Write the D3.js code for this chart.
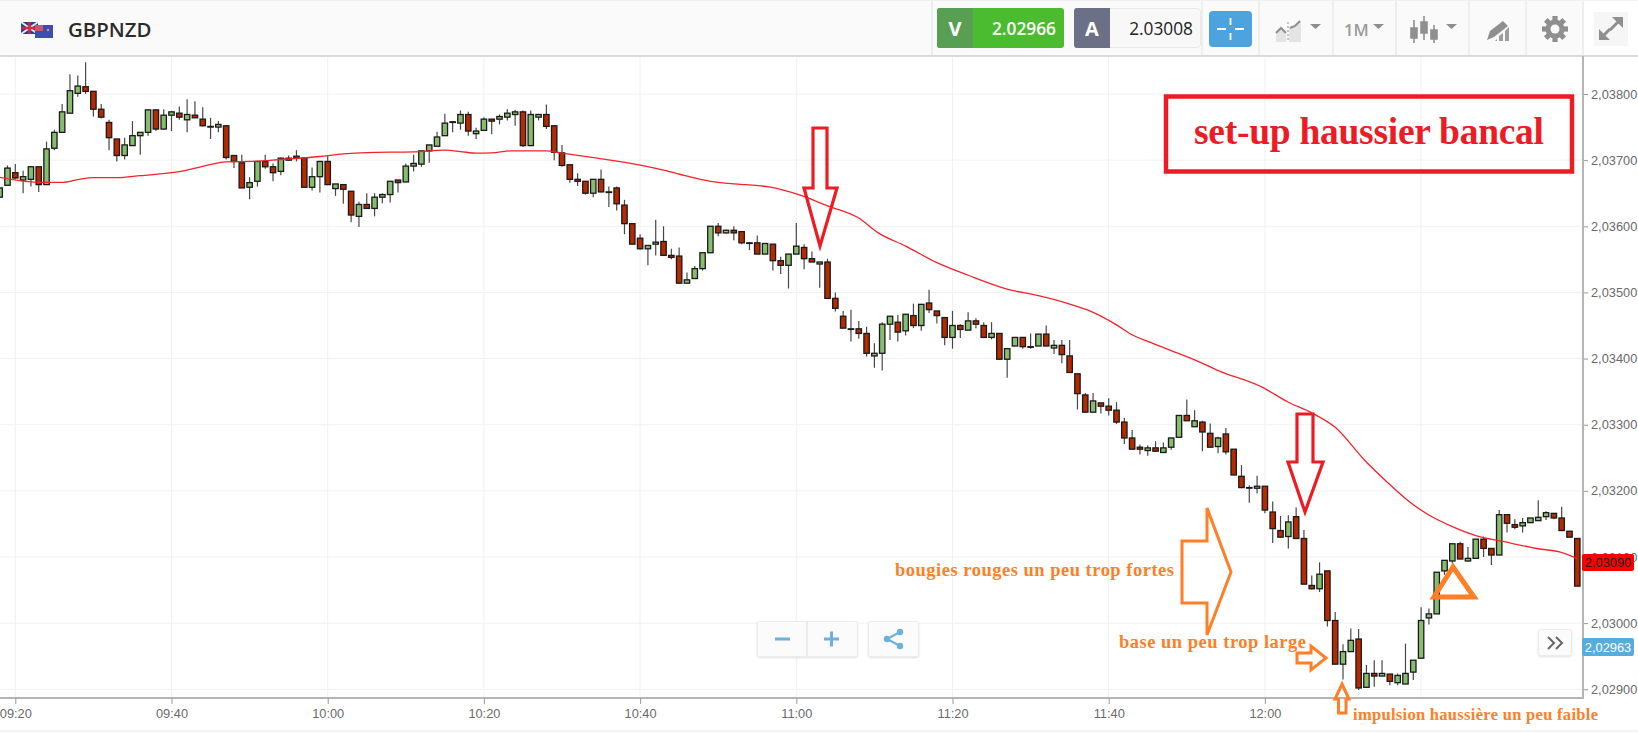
<!DOCTYPE html>
<html><head><meta charset="utf-8">
<script src="https://cdn.jsdelivr.net/npm/d3@7/dist/d3.min.js"></script>
<style>html,body{margin:0;padding:0;background:#fff;overflow:hidden}svg{display:block}
text{font-family:"Liberation Sans",Arial,sans-serif}</style></head><body>
<svg id="c" width="1638" height="733"></svg>
<script>
// Prices are in 1e-5 units above 2.00000 (3800 = 2,03800). One candle per minute, first at 09:18.
const opens=[3644,3662,3681,3670,3671,3690,3663,3718,3742,3771,
3801,3811,3804,3777,3757,3732,3707,3722,3737,3742,
3776,3747,3768,3771,3761,3768,3762,3751,3750,3752,
3707,3696,3659,3668,3698,3690,3683,3703,3706,3703,
3659,3675,3698,3657,3663,3653,3615,3633,3627,3644,
3648,3670,3667,3691,3694,3714,3721,3737,3757,3756,
3769,3740,3745,3762,3762,3765,3769,3773,3722,3765,
3769,3752,3711,3693,3671,3668,3650,3671,3652,3658,
3632,3604,3582,3566,3573,3577,3556,3555,3514,3521,
3536,3560,3600,3590,3594,3592,3575,3575,3558,3573,
3548,3541,3558,3568,3551,3543,3546,3491,3464,3445,
3445,3438,3404,3408,3452,3455,3442,3465,3450,3484,
3472,3462,3432,3450,3443,3457,3450,3432,3438,3399,
3419,3432,3418,3419,3437,3416,3420,3404,3377,3345,
3319,3333,3328,3322,3304,3280,3266,3261,3265,3258,
3266,3281,3314,3297,3304,3287,3267,3286,3263,3222,
3205,3204,3207,3168,3140,3131,3161,3128,3057,3052,
3079,3004,2938,2957,2976,2903,2924,2920,2923,2910,
2908,2926,2947,3008,3014,3079,3094,3120,3094,3098,
3127,3113,3103,3164,3149,3147,3152,3155,3161,3166,
3159,3139,3128];
const closes=[3658,3688,3673,3675,3690,3663,3717,3742,3773,3805,
3812,3804,3777,3765,3734,3707,3723,3737,3742,3776,
3747,3768,3773,3765,3769,3764,3752,3750,3754,3704,
3698,3658,3666,3698,3690,3681,3703,3700,3703,3659,
3675,3698,3663,3664,3656,3617,3633,3627,3644,3648,
3668,3666,3691,3695,3714,3723,3735,3756,3758,3769,
3744,3744,3762,3759,3766,3771,3773,3722,3769,3769,
3751,3712,3692,3671,3668,3650,3671,3652,3652,3634,
3604,3573,3566,3571,3576,3556,3553,3514,3519,3536,
3560,3600,3590,3594,3590,3575,3575,3558,3574,3548,
3541,3558,3570,3551,3546,3546,3491,3476,3446,3445,
3438,3408,3408,3452,3464,3440,3467,3450,3482,3474,
3465,3432,3450,3444,3457,3452,3432,3438,3399,3415,
3432,3418,3418,3437,3419,3420,3406,3379,3347,3319,
3336,3328,3322,3304,3280,3263,3263,3265,3260,3265,
3280,3314,3306,3306,3289,3266,3280,3259,3224,3205,
3205,3207,3171,3143,3130,3153,3128,3059,3052,3074,
3004,2938,2957,2974,2902,2924,2920,2924,2912,2921,
2924,2944,3004,3014,3077,3095,3120,3097,3098,3127,
3113,3103,3164,3151,3145,3152,3159,3160,3167,3159,
3140,3130,3056];
const highs=[3658,3692,3694,3684,3691,3690,3728,3746,3785,3830,
3828,3848,3804,3785,3761,3732,3734,3759,3742,3776,
3776,3777,3774,3781,3792,3789,3780,3764,3759,3752,
3707,3708,3674,3699,3708,3695,3704,3707,3715,3703,
3689,3699,3707,3664,3663,3653,3637,3650,3650,3650,
3668,3670,3695,3708,3714,3723,3743,3770,3759,3775,
3773,3749,3765,3762,3769,3777,3776,3775,3775,3770,
3784,3752,3723,3693,3680,3668,3671,3686,3660,3660,
3640,3604,3588,3571,3610,3600,3566,3568,3530,3540,
3560,3600,3605,3595,3600,3592,3576,3586,3574,3573,
3554,3558,3605,3573,3562,3546,3551,3500,3472,3474,
3457,3448,3423,3455,3464,3466,3467,3483,3482,3504,
3472,3462,3472,3452,3470,3461,3455,3455,3438,3415,
3432,3432,3438,3437,3450,3428,3428,3428,3377,3348,
3348,3333,3340,3334,3310,3292,3270,3269,3275,3273,
3280,3314,3338,3322,3306,3302,3282,3295,3263,3239,
3208,3223,3207,3184,3162,3163,3175,3141,3072,3092,
3079,3017,2968,2992,2991,2937,2944,2944,2923,2924,
2969,2944,3024,3022,3077,3095,3120,3123,3115,3127,
3131,3113,3171,3164,3157,3159,3159,3186,3169,3166,
3176,3139,3128];
const lows=[3644,3662,3671,3650,3660,3652,3663,3715,3742,3771,
3796,3800,3766,3763,3715,3698,3701,3722,3708,3737,
3744,3746,3744,3761,3742,3764,3751,3732,3742,3701,
3688,3658,3641,3660,3687,3668,3677,3699,3698,3659,
3654,3651,3663,3646,3634,3606,3599,3627,3615,3635,
3636,3651,3667,3683,3690,3696,3721,3737,3742,3746,
3737,3732,3745,3739,3754,3760,3752,3720,3721,3760,
3747,3700,3690,3666,3661,3648,3644,3651,3629,3624,
3588,3573,3565,3541,3556,3556,3550,3514,3514,3521,
3533,3560,3585,3589,3579,3573,3564,3558,3558,3533,
3528,3506,3558,3535,3546,3507,3491,3471,3446,3426,
3430,3403,3386,3382,3428,3426,3435,3446,3442,3469,
3453,3420,3415,3431,3443,3446,3432,3429,3398,3371,
3419,3415,3415,3419,3419,3407,3393,3379,3323,3319,
3319,3317,3314,3301,3271,3263,3255,3253,3259,3258,
3262,3281,3306,3297,3260,3266,3257,3255,3224,3204,
3182,3196,3166,3121,3130,3113,3128,3059,3051,3047,
2995,2938,2915,2957,2899,2903,2904,2920,2906,2906,
2908,2914,2946,2998,3014,3073,3090,3097,3093,3098,
3100,3088,3103,3137,3142,3137,3152,3155,3156,3157,
3140,3130,3056];
// Moving average at these candle positions
const maAt=[0,5,8,10,12,15,18,23,26,29,32,36,41,44,47,53,57,59,61,63,65.5,70,72,76.5,82,85,88.5,91.5,95.5,98.5,102.5,106,110,112.5,116,120,124,129,133,137,139.5,143,145,147,150,153.8,155.8,161.7,165,168,171,174.8,177.5,180.5,183,186,189,192.5,197,199.6,202];
const maValues=[3674,3666.5,3666.5,3670.5,3673.5,3673.5,3676.5,3682.5,3690.5,3697.5,3698,3701,3705.5,3709.5,3711.5,3712.5,3715,3713,3710.5,3711,3714,3714,3710.5,3703,3692.5,3685,3674.5,3667,3663,3659.5,3647,3631,3612.5,3590,3570,3545,3526,3505,3495,3482.5,3472.5,3451,3436,3426,3412,3394,3383,3356.5,3334,3318,3296,3246,3215,3183.5,3163.5,3146,3132.5,3123.5,3112.5,3108,3097.5];
const priceTicks=[3800,3700,3600,3500,3400,3300,3200,3100,3000,2900];
const priceLabels=["2,03800","2,03700","2,03600","2,03500","2,03400","2,03300","2,03200","2,03100","2,03000","2,02900"];
const timeTickAt=[2,22,42,62,82,102,122,142,162,182];
const timeLabels=["09:20","09:40","10:00","10:20","10:40","11:00","11:20","11:40","12:00",""];

const x=d3.scaleLinear().domain([2,182]).range([15.3,1421.1]);
const y=d3.scaleLinear().domain([3800,2900]).range([94,689.3]);
const RED="#ed1c24",OR="#ff7f27";
const svg=d3.select("#c");
const plotL=0,plotR=1582,plotT=57,plotB=697;

svg.append("rect").attr("width",1638).attr("height",733).attr("fill","#fff");
// grid
const grid=svg.append("g").attr("stroke","#f1f1f1").attr("stroke-width",1);
grid.selectAll("line.h").data(priceTicks).join("line").attr("class","h").attr("x1",plotL).attr("x2",plotR).attr("y1",d=>y(d)).attr("y2",d=>y(d));
grid.selectAll("line.v").data(timeTickAt).join("line").attr("class","v").attr("x1",d=>x(d)).attr("x2",d=>x(d)).attr("y1",plotT).attr("y2",plotB);

// candles
const cg=svg.append("g").attr("clip-path","url(#plot)");
svg.append("clipPath").attr("id","plot").append("rect").attr("x",plotL).attr("y",plotT).attr("width",plotR-plotL).attr("height",plotB-plotT);
const idx=d3.range(opens.length);
cg.selectAll("line.w").data(idx).join("line").attr("class","w")
  .attr("x1",i=>x(i)).attr("x2",i=>x(i)).attr("y1",i=>y(highs[i])).attr("y2",i=>y(lows[i]))
  .attr("stroke","#474747").attr("stroke-width",1.2);
cg.selectAll("rect.b").data(idx).join("rect").attr("class","b")
  .attr("x",i=>x(i)-2.7).attr("width",5.4)
  .attr("y",i=>y(Math.max(opens[i],closes[i])))
  .attr("height",i=>Math.max(0.6,Math.abs(y(opens[i])-y(closes[i]))))
  .attr("fill",i=>closes[i]>=opens[i]?"#86bd6e":"#b52a00")
  .attr("stroke","#1a1a1a").attr("stroke-width",1.3);
// moving average
cg.append("path").datum(d3.range(maAt.length))
  .attr("d",d3.line().x(j=>x(maAt[j])).y(j=>y(maValues[j])).curve(d3.curveMonotoneX))
  .attr("fill","none").attr("stroke","#f5222a").attr("stroke-width",1.3);

// axes frame
svg.append("rect").attr("x",0).attr("y",0).attr("width",1638).attr("height",55.5).attr("fill","#fafafa");
svg.append("line").attr("x1",0).attr("x2",1638).attr("y1",0.5).attr("y2",0.5).attr("stroke","#efefef");
svg.append("line").attr("x1",0).attr("x2",1638).attr("y1",56).attr("y2",56).attr("stroke","#cfcfcf").attr("stroke-width",1.5);
svg.append("line").attr("x1",0).attr("x2",1584).attr("y1",698).attr("y2",698).attr("stroke","#b5b5b5").attr("stroke-width",2);
svg.append("line").attr("x1",1583).attr("x2",1583).attr("y1",56).attr("y2",699).attr("stroke","#b5b5b5").attr("stroke-width",2);
svg.append("line").attr("x1",0).attr("x2",1638).attr("y1",731).attr("y2",731).attr("stroke","#e6e6e6");

const axR=d3.axisRight(y).tickValues(priceTicks).tickFormat((d,i)=>priceLabels[i]).tickSize(4).tickPadding(3);
const gr=svg.append("g").attr("transform","translate(1584,0)").call(axR);
const axB=d3.axisBottom(x).tickValues(timeTickAt.slice(0,9)).tickFormat((d,i)=>timeLabels[i]).tickSize(6).tickPadding(3);
const gb=svg.append("g").attr("transform","translate(0,698)").call(axB);
[gr,gb].forEach(g=>{g.select(".domain").remove();g.selectAll("line").attr("stroke","#999");
  g.selectAll("text").attr("fill","#6a6a6a").style("font-size","12.8px").style("font-family",'"Liberation Sans",Arial,sans-serif');});
gb.selectAll("text").attr("dy","0.85em");

// price flags
svg.append("rect").attr("x",1582).attr("y",554).attr("width",52).attr("height",17).attr("rx",2).attr("fill","#fb0000");
svg.append("text").attr("x",1608).attr("y",567).attr("text-anchor","middle").attr("font-size",12.8).attr("fill","#222").text("2,03090");
svg.append("rect").attr("x",1582).attr("y",638).attr("width",52).attr("height",18).attr("rx",2).attr("fill","#56addd");
svg.append("text").attr("x",1608).attr("y",651.5).attr("text-anchor","middle").attr("font-size",12.8).attr("fill","#fff").text("2,02963");

// header
const OS='"Open Sans",sans-serif';
svg.append("text").attr("x",68).attr("y",36.500).attr("font-size",20.4).attr("font-weight",600).attr("fill","#2b2b2b").style("font-family",OS).text("GBPNZD");
// flags
const fl=svg.append("g");
fl.append("rect").attr("x",21).attr("y",22).attr("width",17).attr("height",12).attr("fill","#2c3f8f");
fl.append("path").attr("d","M21 22L38 34M38 22L21 34").attr("stroke","#e8e8ee").attr("stroke-width",2);
fl.append("path").attr("d","M29.5 22V34M21 28H38").attr("stroke","#d8263a").attr("stroke-width",2.4);
fl.append("rect").attr("x",35).attr("y",25).attr("width",18).attr("height",13).attr("fill","#3a4fb0");
fl.append("rect").attr("x",35).attr("y",25).attr("width",8).attr("height",6).attr("fill","#c9566e");
fl.append("circle").attr("cx",48).attr("cy",30).attr("r",1.2).attr("fill","#e88");

// separators
svg.append("g").attr("stroke","#e3e3e3").selectAll("line").data([932,1202,1259,1333,1396,1469,1526,1583]).join("line")
  .attr("x1",d=>d).attr("x2",d=>d).attr("y1",1).attr("y2",55);
svg.append("rect").attr("x",1584).attr("y",1).attr("width",54).attr("height",54).attr("fill","#fff");
// V button
svg.append("rect").attr("x",937).attr("y",8).attr("width",127).attr("height",40).attr("rx",3).attr("fill","#4bbb2f");
svg.append("path").attr("d","M973 8H940a3 3 0 0 0-3 3V45a3 3 0 0 0 3 3H973Z").attr("fill","#599f53");
svg.append("text").attr("x",955).attr("y",36).attr("text-anchor","middle").attr("font-size",20).attr("font-weight",700).attr("fill","#fff").style("font-family",OS).text("V");
svg.append("text").attr("x",1056).attr("y",34.5).attr("text-anchor","end").attr("font-size",17.3).attr("font-weight",600).attr("fill","#fff").style("font-family",OS).text("2.02966");
// A button
svg.append("rect").attr("x",1074.5).attr("y",8.5).attr("width",126).attr("height",39).attr("rx",3).attr("fill","#f8f8f8").attr("stroke","#e8e8e8");
svg.append("path").attr("d","M1110 8H1077a3 3 0 0 0-3 3V45a3 3 0 0 0 3 3H1110Z").attr("fill","#6b7086");
svg.append("text").attr("x",1092).attr("y",36).attr("text-anchor","middle").attr("font-size",20).attr("font-weight",700).attr("fill","#fff").style("font-family",OS).text("A");
svg.append("text").attr("x",1193).attr("y",34.5).attr("text-anchor","end").attr("font-size",17.3).attr("font-weight",400).attr("fill","#222").style("font-family",OS).text("2.03008");
// blue crosshair
svg.append("rect").attr("x",1209).attr("y",11).attr("width",43).attr("height",36).attr("rx",4).attr("fill","#4da3de");
svg.append("path").attr("d","M1217 29H1226M1235 29H1244M1230.500 18V25M1230.500 33V40").attr("stroke","#fff").attr("stroke-width",1.8);

const ic="#8f8f8f";
// chart type icon
svg.append("path").attr("d","M1276 42V32L1281 28L1286 33V42ZM1289 42V27L1295 25L1301 21V42Z").attr("fill","#e4e4e4");
svg.append("path").attr("d","M1276 33L1281 28L1286 33M1290 28L1295 26L1300 21").attr("fill","none").attr("stroke",ic).attr("stroke-width",2);
svg.append("path").attr("d","M1288 22V42").attr("stroke",ic).attr("stroke-dasharray","2 2");
svg.append("path").attr("d","M1310 24H1321L1315.500 29ZM1373 24H1384L1378.500 29ZM1446 24H1457L1451.500 29Z").attr("fill",ic);
svg.append("text").attr("x",1344).attr("y",36).attr("font-size",16.5).attr("font-weight",600).attr("fill","#9a9a9a").style("font-family",OS).text("1M");
// candle icon
const cand=[[1414,20,43,28,38],[1424,16,40,22,33],[1434,25,43,30,39]];
svg.append("g").selectAll("path").data(cand).join("path")
  .attr("d",d=>`M${d[0]} ${d[1]}V${d[2]}M${d[0]-3} ${d[3]}H${d[0]+3}V${d[4]}H${d[0]-3}Z`)
  .attr("stroke",ic).attr("stroke-width",1.6).attr("fill",ic);
// draw icon: pencil over steps
svg.append("path").attr("d","M1495 41L1497 39V41ZM1499 41V36L1503 33V41ZM1505 41V31L1509 27V41Z").attr("fill","#9d9d9d");
svg.append("path").attr("d","M1490 31L1503 21L1508 26L1494 37L1487 40Z").attr("fill",ic);
// gear
const gear=svg.append("g").attr("transform","translate(1555,29)");
gear.append("circle").attr("r",9.5).attr("fill",ic);
gear.selectAll("rect").data([0,45,90,135]).join("rect").attr("x",-2.6).attr("y",-13).attr("width",5.2).attr("height",26).attr("fill",ic).attr("transform",d=>`rotate(${d})`);
gear.append("circle").attr("r",4.5).attr("fill","#fafafa");
// fullscreen
svg.append("rect").attr("x",1594).attr("y",12).attr("width",34).attr("height",34).attr("fill","#f6f6f6");
svg.append("path").attr("d","M1612 17H1623V28ZM1599 29V40H1610Z").attr("fill",ic);
svg.append("path").attr("d","M1618 22L1610 30M1604 35L1610 29").attr("stroke",ic).attr("stroke-width",3);

// zoom controls
const panel=(px,pw,py,ph)=>svg.append("rect").attr("x",px).attr("y",py).attr("width",pw).attr("height",ph).attr("rx",2).attr("fill","#fbfbfb").attr("stroke","#ececec").style("filter","drop-shadow(0 1px 1px rgba(0,0,0,.12))");
panel(757.5,100,621.5,35);panel(868.5,50,621.5,35);
svg.append("line").attr("x1",807).attr("x2",807).attr("y1",622).attr("y2",656).attr("stroke","#dcdcdc");
svg.append("path").attr("d","M775 639H790M824 639H839M831.500 631.500V646.500").attr("stroke","#6cb0dc").attr("stroke-width",3);
const sh=[[887,639],[900,632],[900,646]];
svg.append("path").attr("d","M900 632L887 639L900 646").attr("fill","none").attr("stroke","#6cb0dc").attr("stroke-width",2);
svg.append("g").selectAll("circle").data(sh).join("circle").attr("cx",d=>d[0]).attr("cy",d=>d[1]).attr("r",3.2).attr("fill","#6cb0dc");
panel(1538.5,33,629.5,26);
svg.append("path").attr("d","M1548 637L1554 643L1548 649M1556 637L1562 643L1556 649").attr("fill","none").attr("stroke","#666").attr("stroke-width",2);

// annotations
svg.append("rect").attr("x",1166).attr("y",96.500).attr("width",406).attr("height",75).attr("fill","none").attr("stroke",RED).attr("stroke-width",4.5);
const SER='"Liberation Serif",serif';
const note=(t,nx,ny,len,fs,col)=>svg.append("text").attr("x",nx).attr("y",ny).attr("textLength",len).attr("lengthAdjust","spacing").attr("font-size",fs).attr("font-weight",700).attr("fill",col).style("font-family",SER).text(t);
note("set-up haussier bancal",1194,144,350,37.5,RED);
note("bougies rouges un peu trop fortes",895,576,279,18.5,OR);
note("base un peu trop large",1119,648,187,18.5,OR);
note("impulsion haussière un peu faible",1353,720,245,16.5,OR);

const poly=(p,col,w)=>svg.append("path").attr("d","M"+p.map(a=>a.join(" ")).join("L")+"Z").attr("fill","none").attr("stroke",col).attr("stroke-width",w).attr("stroke-linejoin","miter");
poly([[813,128],[827,128],[827,188],[837,188],[820,246],[804,188],[813,188]],RED,3.2);
poly([[1297,414],[1313,414],[1313,462],[1323,462],[1305,512],[1288,462],[1297,462]],RED,3.2);
poly([[1182,541],[1207,541],[1207,508],[1231,572],[1207,635],[1207,603],[1182,603]],OR,3);
poly([[1297,653],[1311,653],[1311,646],[1326,658],[1311,670],[1311,663],[1297,663]],OR,3);
poly([[1342,684],[1349,699],[1346,699],[1346,713],[1338.500,713],[1338.500,699],[1335,699]],OR,3);
poly([[1453,567],[1474,597],[1434,597]],OR,5);
</script></body></html>
